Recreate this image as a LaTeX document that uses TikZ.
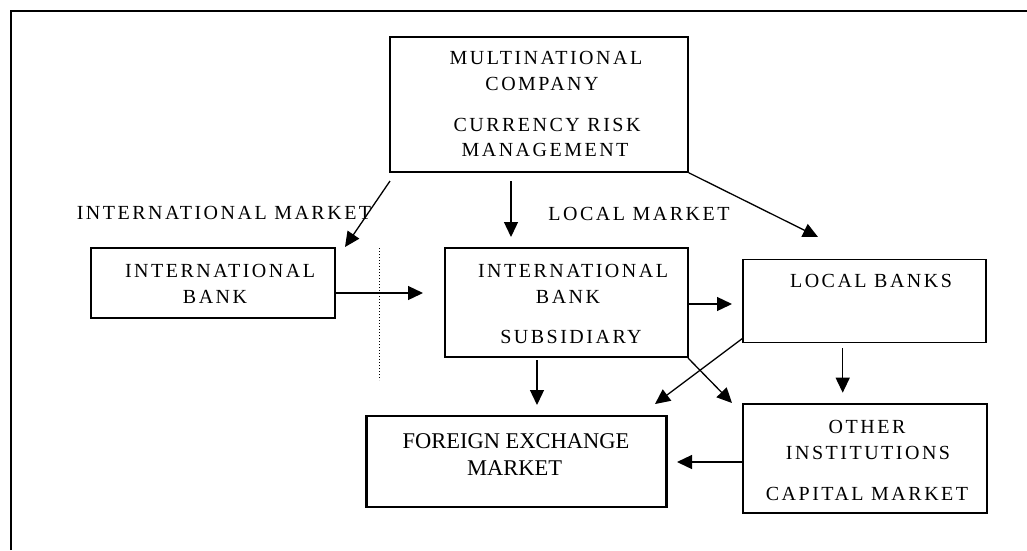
\documentclass[tikz,border=0pt]{standalone}
\usepackage{fontspec}
\setmainfont{Liberation Serif}
\newfontfamily\lsfont[LetterSpace=12.5]{Liberation Serif}
\usetikzlibrary{arrows.meta}
\tikzset{
  box/.style={draw, line width=1.6pt, inner sep=0pt},
  fxbox/.style={draw, line width=2.6pt, inner sep=0pt},
  txt/.style={anchor=base, inner sep=0pt, font=\lsfont\fontsize{20}{24}\selectfont},
  fxtxt/.style={anchor=base, inner sep=0pt, font=\fontsize{22.5}{26}\selectfont},
  arr/.style={line width=1.3pt, -{Triangle[length=15pt,width=14pt]}},
}
\begin{document}
\begin{tikzpicture}[x=1pt,y=-1pt]
\useasboundingbox (0,0) rectangle (1027,550);
% frame
\draw[line width=2pt] (10.5,550) -- (10.5,11) -- (1027,11);
% boxes
\node[box, minimum width=298pt, minimum height=135pt] (mc) at (539,104.5) {};
\node[box, minimum width=244pt, minimum height=70pt] (ib) at (213,283) {};
\node[box, minimum width=243pt, minimum height=109pt] (ibs) at (566.5,302.5) {};
\node[box, minimum width=243pt, minimum height=83pt] (lb) at (864.5,300.8) {};
\node[fxbox, minimum width=300pt, minimum height=91pt] (fx) at (516.5,461.5) {};
\node[box, minimum width=244pt, minimum height=109pt] (oi) at (865,458.5) {};
% texts
\node[txt] (mc1) at (546,64.3) {MULTINATIONAL};
\node[txt] (mc2) at (542,90.7) {COMPANY};
\node[txt] (mc3) at (547,131.7) {CURRENCY RISK};
\node[txt] (mc4) at (545,156.7) {MANAGEMENT};
\node[txt] (ib1) at (220,277) {INTERNATIONAL};
\node[txt] (ib2) at (215,303) {BANK};
\node[txt] (ibs1) at (573,277) {INTERNATIONAL};
\node[txt] (ibs2) at (568,303) {BANK};
\node[txt] (ibs3) at (571,343) {SUBSIDIARY};
\node[txt] (lb1) at (871,287.7) {LOCAL BANKS};
\node[txt] (oi1) at (867,433) {OTHER};
\node[txt] (oi2) at (868,459.3) {INSTITUTIONS};
\node[txt] (oi3) at (867,500) {CAPITAL MARKET};
\node[fxtxt] (fx1) at (516,448.3) {FOREIGN EXCHANGE};
\node[fxtxt] (fx2) at (514.5,475) {MARKET};
\node[txt] (lim) at (224,219) {INTERNATIONAL MARKET};
\node[txt] (llm) at (639,220) {LOCAL MARKET};
% named arrow ends
\coordinate (a1s) at (390,181);
\coordinate (a1e) at (345,247);
\coordinate (a2s) at (511,181);
\coordinate (a2e) at (511,237);
\coordinate (a3e) at (818,237);
\coordinate (a4s) at (335,293);
\coordinate (a4e) at (423,293);
\coordinate (a5s) at (688,304);
\coordinate (a5e) at (732,304);
\coordinate (a6s) at (743,338);
\coordinate (a6e) at (655,404);
\coordinate (a7s) at (688,358);
\coordinate (a7e) at (732,403);
\coordinate (a8s) at (537,360);
\coordinate (a8e) at (537,405);
\coordinate (a9s) at (842.7,348);
\coordinate (a9e) at (842.7,392.7);
\coordinate (a10s) at (743,462);
\coordinate (a10e) at (677,462);
\coordinate (dts) at (379,248);
\coordinate (dte) at (379,380);
% arrows
\draw[arr] (a1s) -- (a1e);
\draw[arr] (a2s) -- (a2e);
\draw[arr] (mc.south east) -- (a3e);
\draw[arr] (a4s) -- (a4e);
\draw[arr] (a5s) -- (a5e);
\draw[arr] (a6s) -- (a6e);
\draw[arr] (a7s) -- (a7e);
\draw[arr] (a8s) -- (a8e);
\draw[arr] (a9s) -- (a9e);
\draw[arr] (a10s) -- (a10e);
\draw[line width=1pt, dotted] (dts) -- (dte);
\end{tikzpicture}
\end{document}
